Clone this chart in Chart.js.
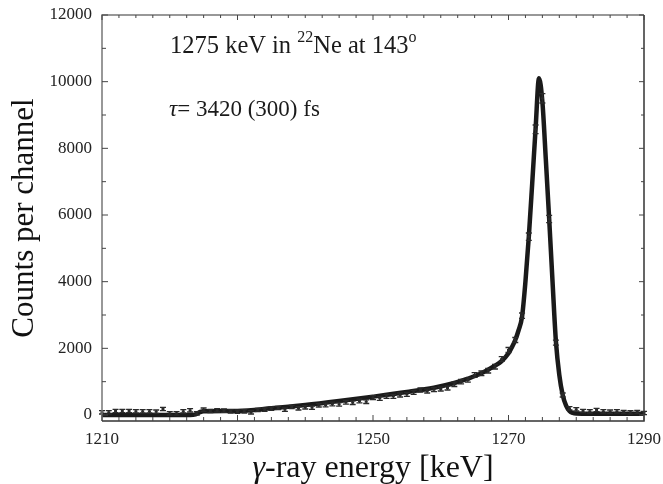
<!DOCTYPE html>
<html><head><meta charset="utf-8">
<script src="https://cdn.jsdelivr.net/npm/chart.js@4/dist/chart.umd.min.js"></script>
<style>html,body{margin:0;padding:0;background:#fff}#wrap{width:663px;height:484px;position:relative}</style>
</head><body><div id="wrap"><canvas id="c" width="663" height="484"></canvas></div>
<script>
// ---- data ----
const energies = [1210,1211,1212,1213,1214,1215,1216,1217,1218,1219,1220,1221,1222,1223,1224,1225,1226,1227,1228,1229,
  1230,1231,1232,1233,1234,1235,1236,1237,1238,1239,1240,1241,1242,1243,1244,1245,1246,1247,1248,1249,
  1250,1251,1252,1253,1254,1255,1256,1257,1258,1259,1260,1261,1262,1263,1264,1265,1266,1267,1268,1269,
  1270,1271,1272,1273,1274,1275,1276,1277,1278,1279,1280,1281,1282,1283,1284,1285,1286,1287,1288,1289,1290];
const counts = [80,80,120,120,120,110,110,110,100,180,50,50,110,140,50,160,120,140,130,110,
  100,110,80,150,160,190,210,160,240,200,230,220,290,300,330,320,380,370,420,400,
  520,500,560,560,600,620,680,750,720,760,780,810,920,1000,1050,1200,1250,1330,1450,1680,
  1950,2250,2980,5350,8570,9500,5880,2170,600,200,170,120,110,150,110,100,110,90,80,90,60];
const errors = [50,50,50,50,50,50,50,50,50,50,50,50,50,50,50,50,50,50,50,50,
  50,50,50,50,50,50,50,50,50,50,50,50,50,55,55,55,55,55,55,55,
  60,60,60,60,60,60,60,60,60,60,60,60,65,65,65,70,70,70,70,70,
  75,75,80,110,130,140,110,75,60,50,50,50,50,50,50,50,50,50,50,50,50];
const fitEnergies = [1210,1215,1220,1223,1223.8,1224.5,1225,1230,1235,1240,1245,1250,1255,1259,1262,1264,1266,1268,1269,
  1270,1270.5,1271,1271.5,1272,1272.5,1273,1273.5,1274,1274.5,1275,1275.5,1276,1276.5,1277,1277.5,1278,1278.5,1279,1279.5,1280,1282,1285,1290];
const fitCounts = [0,0,0,0,20,90,110,120,200,300,420,550,690,820,960,1090,1250,1480,1620,
  1850,2030,2250,2550,2950,4000,5350,6950,8600,10100,9400,7700,5900,4000,2200,1200,600,280,120,60,45,40,40,40];
const xTickLabels = [1210,1230,1250,1270,1290];
const yTickLabels = [0,2000,4000,6000,8000,10000,12000];
const xTitleParts = [['γ',true],['-ray energy [keV]',false]];
const yTitle = 'Counts per channel';
const annotLine1 = [['1275 keV in ',false],['22',true],['Ne at 143',false],['o',true]];
const annotLine2 = [['τ',true],['= 3420 (300) fs',false]];

const SERIF = '"Liberation Serif","Times New Roman",serif';
const xMinor = []; for (let v = 1210; v <= 1290.001; v += 2.5) xMinor.push(Math.round(v*10)/10);
const yMinor = []; for (let v = 0; v <= 12000; v += 1000) yMinor.push(v);

const frame = {
  id: 'frame',
  afterDatasetsDraw(chart) {
    const ctx = chart.ctx, a = chart.chartArea, xs = chart.scales.x, ys = chart.scales.y;
    ctx.save();
    const meta = chart.getDatasetMeta(1);
    ctx.strokeStyle = '#2a2a2a'; ctx.fillStyle = '#2a2a2a'; ctx.lineWidth = 1.3;
    meta.data.forEach((el, i) => {
      const x = el.x, yc = el.y;
      const yt = ys.getPixelForValue(counts[i] + errors[i]);
      const yb = ys.getPixelForValue(counts[i] - errors[i]);
      ctx.beginPath();
      ctx.moveTo(x, yt); ctx.lineTo(x, yb);
      ctx.moveTo(x - 3, yt); ctx.lineTo(x + 3, yt);
      ctx.moveTo(x - 3, yb); ctx.lineTo(x + 3, yb);
      ctx.stroke();
      ctx.fillRect(x - 1.5, yc - 1, 3, 2);
    });
    ctx.lineWidth = 1.5;
    ctx.strokeStyle = '#777';
    ctx.beginPath(); ctx.moveTo(a.left, a.bottom); ctx.lineTo(a.left, a.top); ctx.lineTo(a.right, a.top); ctx.stroke();
    ctx.strokeStyle = '#333';
    ctx.beginPath(); ctx.moveTo(a.left, a.bottom); ctx.lineTo(a.right, a.bottom); ctx.lineTo(a.right, a.top); ctx.stroke();
    ctx.lineWidth = 1;
    ctx.strokeStyle = '#444';
    xs.ticks.forEach(t => {
      const px = xs.getPixelForValue(t.value);
      const major = xTickLabels.includes(t.value);
      ctx.beginPath();
      ctx.moveTo(px, a.bottom); ctx.lineTo(px, a.bottom - (major ? 6 : 4));
      ctx.moveTo(px, a.top); ctx.lineTo(px, a.top + (major ? 5 : 3));
      ctx.stroke();
    });
    ys.ticks.forEach(t => {
      const py = ys.getPixelForValue(t.value);
      const major = yTickLabels.includes(t.value);
      ctx.beginPath();
      ctx.moveTo(a.left, py); ctx.lineTo(a.left + (major ? 6 : 4), py);
      ctx.moveTo(a.right, py); ctx.lineTo(a.right - (major ? 5 : 3), py);
      ctx.stroke();
    });
    ctx.restore();
  },
  afterDraw(chart) {
    const ctx = chart.ctx, a = chart.chartArea;
    ctx.save();
    ctx.fillStyle = '#1a1a1a'; ctx.textBaseline = 'alphabetic'; ctx.textAlign = 'left';
    let x = 170, y = 53;
    annotLine1.forEach(([t, sup]) => {
      ctx.font = (sup ? '16px ' : '24.5px ') + SERIF;
      ctx.fillText(t, x, sup ? y - 11 : y);
      x += ctx.measureText(t).width;
    });
    x = 169; y = 116;
    annotLine2.forEach(([t, it]) => {
      ctx.font = (it ? 'italic 23px ' : '23px ') + SERIF;
      ctx.fillText(t, x, y);
      x += ctx.measureText(t).width;
    });
    ctx.fillStyle = '#111';
    let w = 0;
    xTitleParts.forEach(([t, it]) => { ctx.font = (it ? 'italic 32px ' : '32px ') + SERIF; w += ctx.measureText(t).width; });
    x = (a.left + a.right) / 2 - w / 2; y = 477;
    xTitleParts.forEach(([t, it]) => {
      ctx.font = (it ? 'italic 32px ' : '32px ') + SERIF;
      ctx.fillText(t, x, y);
      x += ctx.measureText(t).width;
    });
    ctx.restore();
  }
};

new Chart(document.getElementById('c'), {
  type: 'scatter',
  data: {
    datasets: [
      {
        label: 'fit',
        data: fitEnergies.map((e, i) => ({x: e, y: fitCounts[i]})),
        showLine: true,
        borderColor: '#1a1a1a',
        borderWidth: 4.5,
        borderJoinStyle: 'round',
        borderCapStyle: 'round',
        pointRadius: 0,
        cubicInterpolationMode: 'monotone',
        fill: false
      },
      {
        label: 'data',
        data: energies.map((e, i) => ({x: e, y: counts[i]})),
        showLine: false,
        pointRadius: 0,
        pointHoverRadius: 0,
        backgroundColor: '#2a2a2a'
      }
    ]
  },
  options: {
    responsive: false,
    animation: false,
    events: [],
    layout: {padding: {top: 15, right: 19, left: 0, bottom: 0}},
    plugins: {legend: {display: false}, tooltip: {enabled: false}},
    scales: {
      x: {
        type: 'linear', min: 1210, max: 1290,
        afterBuildTicks: s => { s.ticks = xMinor.map(v => ({value: v})); },
        afterFit: s => { s.height = 63; s.paddingLeft = 0; s.paddingRight = 0; },
        grid: {display: false, drawTicks: false},
        border: {display: false},
        ticks: {
          autoSkip: false, maxRotation: 0, padding: 8, color: '#222',
          font: {family: SERIF, size: 17},
          callback: v => xTickLabels.includes(v) ? String(v) : ''
        },
        title: {display: false}
      },
      y: {
        type: 'linear', min: -180, max: 12000,
        afterBuildTicks: s => { s.ticks = yMinor.map(v => ({value: v})); },
        afterFit: s => { s.width = 102; s.paddingTop = 0; s.paddingBottom = 0; },
        grid: {display: false, drawTicks: false},
        border: {display: false},
        ticks: {
          autoSkip: false, padding: 10, color: '#222',
          font: {family: SERIF, size: 17},
          callback: v => yTickLabels.includes(v) ? String(v) : ''
        },
        title: {display: true, text: yTitle, color: '#111', font: {family: SERIF, size: 31}, padding: {top: 6, bottom: 0}}
      }
    }
  },
  plugins: [frame]
});
</script>
</body></html>
